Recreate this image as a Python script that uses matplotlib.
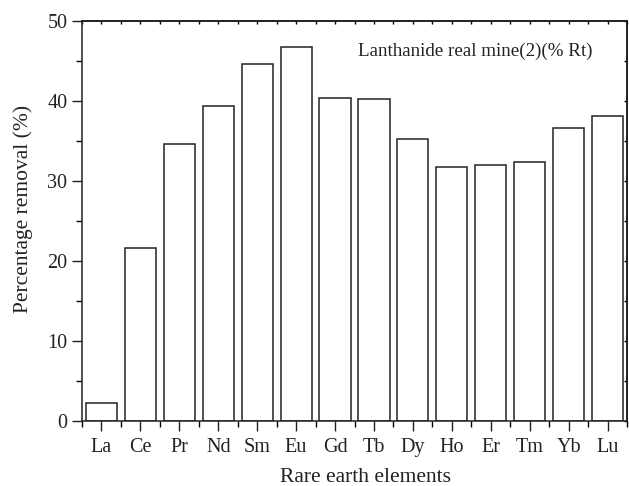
import matplotlib
matplotlib.use("Agg")
import matplotlib.pyplot as plt
from matplotlib.ticker import FixedLocator, MultipleLocator, NullFormatter
import numpy as np

elements = ["La", "Ce", "Pr", "Nd", "Sm", "Eu", "Gd", "Tb", "Dy", "Ho", "Er", "Tm", "Yb", "Lu"]
removal = [2.2, 21.6, 34.6, 39.4, 44.6, 46.7, 40.4, 40.2, 35.3, 31.7, 32.0, 32.4, 36.6, 38.1]
y_ticks = [0, 10, 20, 30, 40, 50]

plt.rcParams['font.family'] = ['Liberation Serif', 'DejaVu Serif']

fig = plt.figure(figsize=(6.29, 4.86), dpi=100)
ax = fig.add_axes([0.1304, 0.1337, 0.8664, 0.8230])

x = np.arange(len(elements))
ax.bar(x, removal, width=0.8, facecolor='white', edgecolor='#222222', linewidth=1.1)

ax.set_xlim(-0.5, len(elements) - 0.5)
ax.set_ylim(0, 50)
ax.set_xticks(x)
ax.set_xticklabels(elements, fontsize=14.5, color='#222222')
ax.xaxis.set_minor_locator(FixedLocator(np.arange(-0.5, len(elements), 1.0)))
ax.set_yticks(y_ticks)
ax.set_yticklabels([str(v) for v in y_ticks], fontsize=14.5, color='#222222')
ax.yaxis.set_minor_locator(MultipleLocator(5))

ax.tick_params(axis='x', which='major', direction='out', length=7.5, width=1, pad=5, colors='#222222')
ax.tick_params(axis='x', which='minor', direction='out', length=4, width=1)
ax.tick_params(axis='y', which='major', direction='out', length=7.5, width=1, pad=3, colors='#222222')
ax.tick_params(axis='y', which='minor', direction='out', length=4, width=1)

for s in ax.spines.values():
    s.set_linewidth(1.1)
    s.set_color('#222222')

top = ax.secondary_xaxis('top')
top.set_xticks(x)
top.xaxis.set_minor_locator(FixedLocator(np.arange(-0.5, len(elements), 1.0)))
top.xaxis.set_major_formatter(NullFormatter())
top.tick_params(axis='x', which='both', direction='in', length=2.5, width=1)
top.spines['top'].set_linewidth(1.1)

right = ax.secondary_yaxis('right')
right.set_yticks(y_ticks)
right.yaxis.set_minor_locator(MultipleLocator(5))
right.yaxis.set_major_formatter(NullFormatter())
right.tick_params(axis='y', which='both', direction='in', length=2.5, width=1)
right.spines['right'].set_linewidth(1.1)

ax.set_xlabel("Rare earth elements", fontsize=15.5, color='#222222')
ax.set_ylabel("Percentage removal (%)", fontsize=15.5, color='#222222')
ax.xaxis.set_label_coords(0.521, -0.118)
ax.yaxis.set_label_coords(-0.09, 0.531)

ax.text(0.721, 0.925, "Lanthanide real mine(2)(% Rt)", transform=ax.transAxes,
        ha='center', va='center', fontsize=13.7, color='#222222')

fig.savefig("out.png", dpi=100)
